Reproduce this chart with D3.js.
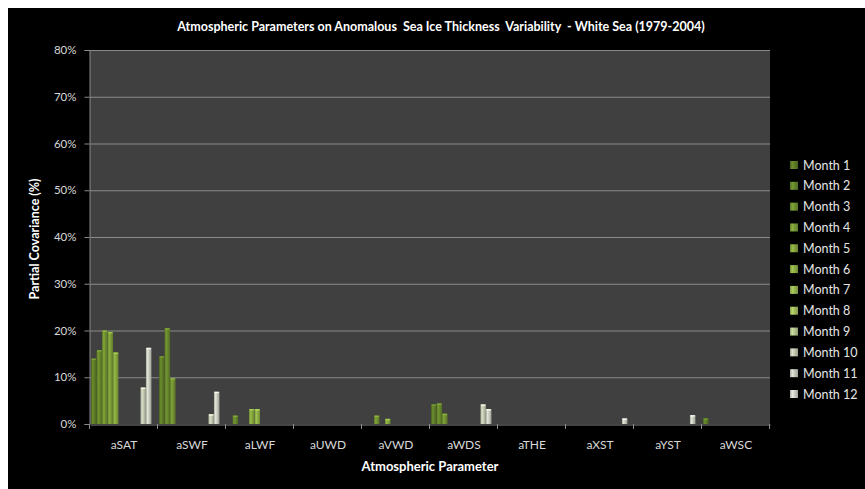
<!DOCTYPE html>
<html>
<head>
<meta charset="utf-8">
<script src="https://cdn.jsdelivr.net/npm/d3@7"></script>
<style>
  html, body { margin: 0; padding: 0; background: #ffffff; }
  svg { display: block; }
  text { font-family: Lato, "Open Sans", "Liberation Sans", sans-serif; }
</style>
</head>
<body>
<svg id="chart" width="865" height="489"></svg>
<script>
// ---- data ----
const categories = ["aSAT", "aSWF", "aLWF", "aUWD", "aVWD", "aWDS", "aTHE", "aXST", "aYST", "aWSC"];
const seriesNames = ["Month 1", "Month 2", "Month 3", "Month 4", "Month 5", "Month 6",
                     "Month 7", "Month 8", "Month 9", "Month 10", "Month 11", "Month 12"];
const month1  = [14.0, 14.5, 0,   0, 0,   4.2, 0, 0,   0,   1.2];
const month2  = [15.8, 20.5, 1.8, 0, 0,   4.4, 0, 0,   0,   0];
const month3  = [20.0,  9.8, 0,   0, 1.8, 2.2, 0, 0,   0,   0];
const month4  = [19.7,  0,   0,   0, 0,   0,   0, 0,   0,   0];
const month5  = [15.3,  0,   3.2, 0, 1.1, 0,   0, 0,   0,   0];
const month6  = [0,     0,   3.2, 0, 0,   0,   0, 0,   0,   0];
const month7  = [0,     0,   0,   0, 0,   0,   0, 0,   0,   0];
const month8  = [0,     0,   0,   0, 0,   0,   0, 0,   0,   0];
const month9  = [0,     0,   0,   0, 0,   0,   0, 0,   0,   0];
const month10 = [7.8,   2.1, 0,   0, 0,   4.2, 0, 0,   0,   0];
const month11 = [16.3,  6.9, 0,   0, 0,   3.2, 0, 1.2, 1.9, 0];
const month12 = [0,     0,   0,   0, 0,   0,   0, 0,   0,   0];
const seriesValues = [month1, month2, month3, month4, month5, month6,
                      month7, month8, month9, month10, month11, month12];
const yTicks = [0, 10, 20, 30, 40, 50, 60, 70, 80];

// ---- style ----
const baseColors = ["#5c7a26", "#65842b", "#6f8e30", "#789836", "#82a23d", "#8cab45",
                    "#96b350", "#a1bb5e", "#b2c28c", "#bec4ae", "#c4c7bb", "#cbccc5"];

const svg = d3.select("#chart");
const W = 865, H = 489;
const plot = { left: 90, right: 770, top: 50, bottom: 424 };

svg.append("rect").attr("x", 0).attr("y", 0).attr("width", W).attr("height", H).attr("fill", "#ffffff");
svg.append("rect").attr("x", 8).attr("y", 8).attr("width", W - 8).attr("height", H - 8).attr("fill", "#000000");

const defs = svg.append("defs");
baseColors.forEach((c, i) => {
  const base = d3.color(c);
  const g = defs.append("linearGradient").attr("id", "grad" + i)
    .attr("x1", "0%").attr("x2", "100%").attr("y1", "0%").attr("y2", "0%");
  g.append("stop").attr("offset", "0%").attr("stop-color", base.darker(0.5).formatHex());
  g.append("stop").attr("offset", "30%").attr("stop-color", base.brighter(0.4).formatHex());
  g.append("stop").attr("offset", "60%").attr("stop-color", base.formatHex());
  g.append("stop").attr("offset", "100%").attr("stop-color", base.darker(0.6).formatHex());
});

svg.append("rect")
  .attr("x", plot.left).attr("y", plot.top)
  .attr("width", plot.right - plot.left).attr("height", plot.bottom - plot.top)
  .attr("fill", "#404040");

const x0 = d3.scaleBand().domain(categories).range([plot.left, plot.right]).padding(0);
const x1 = d3.scaleBand().domain(d3.range(12)).range([0, x0.bandwidth()]).paddingInner(0).paddingOuter(0.2);
const y = d3.scaleLinear().domain([0, 80]).range([plot.bottom, plot.top]);

svg.append("g").selectAll("line").data(yTicks.filter(t => t > 0)).join("line")
  .attr("x1", plot.left).attr("x2", plot.right)
  .attr("y1", d => y(d) + 0.5).attr("y2", d => y(d) + 0.5)
  .attr("stroke", "#8a8a8a").attr("stroke-width", 1);

const barData = [];
seriesValues.forEach((arr, s) => arr.forEach((v, c) => { if (v > 0) barData.push({ s, c, v }); }));
svg.append("g").selectAll("rect").data(barData).join("rect")
  .attr("x", d => x0(categories[d.c]) + x1(d.s))
  .attr("width", x1.bandwidth())
  .attr("y", d => y(d.v))
  .attr("height", d => y(0) - y(d.v))
  .attr("fill", d => "url(#grad" + d.s + ")");
svg.append("g").selectAll("rect").data(barData).join("rect")
  .attr("x", d => x0(categories[d.c]) + x1(d.s) + 0.5)
  .attr("width", x1.bandwidth() - 1)
  .attr("y", d => y(d.v))
  .attr("height", 1.5)
  .attr("fill", d => d3.color(baseColors[d.s]).brighter(0.8).formatHex())
  .attr("opacity", 0.8);

const yAxis = d3.axisLeft(y).tickValues(yTicks).tickFormat(d => d + "%").tickSize(5).tickPadding(8);
const gy = svg.append("g").attr("transform", `translate(${plot.left - 0.5},0)`).call(yAxis);
gy.select(".domain").attr("stroke", "#8a8a8a");
gy.selectAll(".tick line").attr("stroke", "#8a8a8a");
gy.selectAll(".tick text").attr("fill", "#d9d9d9").style("font-size", "11.5px")
  .style("font-family", "Lato, sans-serif");

const xAxis = d3.axisBottom(x0).tickSize(0).tickPadding(16);
const gx = svg.append("g").attr("transform", `translate(0,${plot.bottom + 0.5})`).call(xAxis);
gx.select(".domain").attr("stroke", "#8a8a8a");
gx.selectAll(".tick text").attr("fill", "#d9d9d9").style("font-size", "12px")
  .style("font-family", "Lato, sans-serif");
const bounds = categories.map(c => x0(c)).concat([plot.right]);
svg.append("g").selectAll("line").data(bounds).join("line")
  .attr("x1", d => d - 0.5).attr("x2", d => d - 0.5)
  .attr("y1", plot.bottom).attr("y2", plot.bottom + 5)
  .attr("stroke", "#8a8a8a");

svg.append("text").attr("x", 441).attr("y", 31).attr("text-anchor", "middle")
  .attr("fill", "#ffffff").style("font-size", "12.5px").style("font-weight", "bold")
  .attr("xml:space", "preserve").style("white-space", "pre")
  .text("Atmospheric Parameters on Anomalous  Sea Ice Thickness  Variability  - White Sea (1979-2004)");

svg.append("text").attr("transform", "translate(39,239) rotate(-90)").attr("text-anchor", "middle")
  .attr("fill", "#ffffff").style("font-size", "12.5px").style("font-weight", "bold")
  .text("Partial Covariance (%)");
svg.append("text").attr("x", 430).attr("y", 471).attr("text-anchor", "middle")
  .attr("fill", "#ffffff").style("font-size", "13px").style("font-weight", "bold")
  .text("Atmospheric Parameter");

const ly = d3.scalePoint().domain(seriesNames).range([165, 394]);
const lg = svg.append("g").selectAll("g").data(seriesNames).join("g")
  .attr("transform", d => `translate(790,${ly(d)})`);
lg.append("rect").attr("x", 0).attr("y", -4).attr("width", 8).attr("height", 8)
  .attr("fill", (d, i) => "url(#grad" + i + ")");
lg.append("text").attr("x", 13).attr("y", 4.5).attr("fill", "#e6e6e6")
  .style("font-size", "12.5px").text(d => d);
</script>
</body>
</html>
